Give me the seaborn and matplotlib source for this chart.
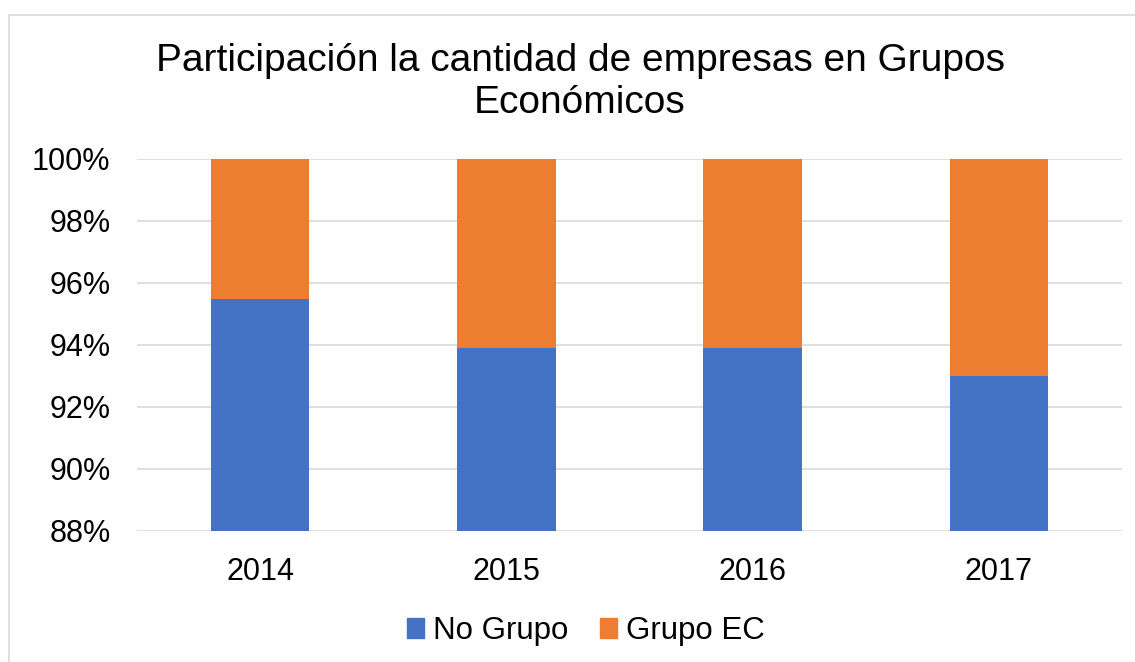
import numpy as np
import pandas as pd
import matplotlib
matplotlib.use('Agg')
import matplotlib.pyplot as plt
import matplotlib.patches as mpatches
from matplotlib.ticker import FuncFormatter
import seaborn as sns

# ─── Datos ──────────────────────────────────────────────────────────────────
years     = ['2014', '2015', '2016', '2017']
no_grupo  = [95.5, 93.9, 93.9, 93.0]
grupo_ec  = [4.5, 6.1, 6.1, 7.0]

COLOR_NO  = '#4472C4'
COLOR_EC  = '#ED7D31'

sns.set_theme(style='white')
plt.rcParams['font.family'] = ['Liberation Sans', 'DejaVu Sans']
plt.rcParams['text.color'] = 'black'

df = pd.DataFrame({'year': years, 'no_grupo': no_grupo, 'grupo_ec': grupo_ec})
df['total'] = df['no_grupo'] + df['grupo_ec']

fig = plt.figure(figsize=(11.35, 6.62), dpi=100)
ax = fig.add_axes([137/1135, 1 - 531/662, (1122-137)/1135, (531-159)/662])

# borde del gráfico
fig.patches.append(mpatches.Rectangle((9/1135, -0.1), 1.2, 1 - 15/662 + 0.1,
                                      transform=fig.transFigure, fill=False,
                                      edgecolor='#D9D9D9', linewidth=1.2))

# apilado: total (naranja) y encima la parte azul
sns.barplot(data=df, x='year', y='total', color=COLOR_EC, width=0.4,
            saturation=1, linewidth=0, ax=ax, zorder=2)
sns.barplot(data=df, x='year', y='no_grupo', color=COLOR_NO, width=0.4,
            saturation=1, linewidth=0, ax=ax, zorder=3)

ax.set_ylim(88, 100)
ax.set_yticks(np.arange(88, 101, 2))
ax.yaxis.set_major_formatter(FuncFormatter(lambda v, _: f'{v:.0f}%'))
ax.grid(axis='y', color='#D9D9D9', linewidth=1.2, zorder=0)
ax.set_axisbelow(True)
for s in ax.spines.values():
    s.set_visible(False)
ax.set_xlabel('')
ax.set_ylabel('')
ax.tick_params(axis='y', labelsize=22, pad=19, colors='black', length=0)
ax.tick_params(axis='x', labelsize=22, pad=19, colors='black', length=0)

fig.text(580/1135, 1 - 82/662,
         'Participación la cantidad de empresas en Grupos\nEconómicos',
         ha='center', va='center', fontsize=28, linespacing=1.22, color='black')

handles = [mpatches.Patch(color=COLOR_NO, label='No Grupo'),
           mpatches.Patch(color=COLOR_EC, label='Grupo EC')]
fig.legend(handles=handles, loc='center', bbox_to_anchor=(586/1135, 1 - 631/662),
           ncol=2, frameon=False, fontsize=22.5, handlelength=0.55, handleheight=0.6,
           handletextpad=0.3, columnspacing=1.0, labelcolor='black')

plt.savefig('out.png', dpi=100)
